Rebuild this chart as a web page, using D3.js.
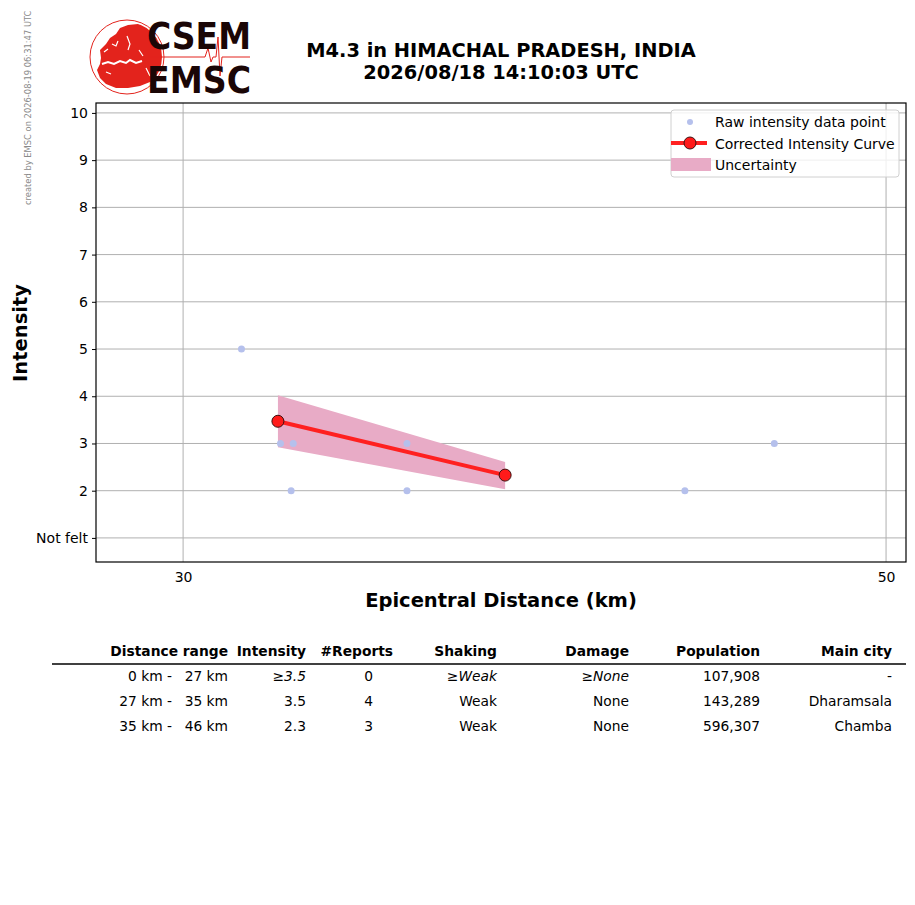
<!DOCTYPE html>
<html>
<head>
<meta charset="utf-8">
<script src="https://cdn.jsdelivr.net/npm/d3@7"></script>
<style>
  body { margin: 0; background: #fff; }
  svg { font-family: "DejaVu Sans", sans-serif; }
</style>
</head>
<body>
<svg id="chart" width="915" height="905"></svg>
<script>
// Raw felt reports (distance km, intensity)
var rawDist = [31.3, 32.2, 32.45, 32.5, 35.3, 35.3, 43.2, 46.1];
var rawInt  = [5, 3, 2, 3, 3, 2, 2, 3];

// Corrected intensity curve + uncertainty band
var curveDist = [32.14, 37.91];
var curveInt  = [3.47, 2.33];
var uncLow    = [2.92, 2.03];
var uncHigh   = [4.02, 2.61];

// Axis ticks
var xTickVals   = [30, 50];
var yTickVals   = [1, 2, 3, 4, 5, 6, 7, 8, 9, 10];
var yTickLabels = ['Not felt', '2', '3', '4', '5', '6', '7', '8', '9', '10'];

// Table below the plot
var tableHeader = ['Distance range', 'Intensity', '#Reports', 'Shaking', 'Damage', 'Population', 'Main city'];
var rangeFrom   = ['0 km -', '27 km -', '35 km -'];
var rangeTo     = ['27 km', '35 km', '46 km'];
var tIntensity  = ['≥3.5', '3.5', '2.3'];
var tReports    = ['0', '4', '3'];
var tShaking    = ['≥Weak', 'Weak', 'Weak'];
var tDamage     = ['≥None', 'None', 'None'];
var tPopulation = ['107,908', '143,289', '596,307'];
var tCity       = ['-', 'Dharamsala', 'Chamba'];
var estimated   = [true, false, false]; // first row shown in italics

var svg = d3.select('#chart');

var plot = {left: 96, right: 906, top: 103, bottom: 562};

var x = d3.scaleLog().domain([28.16, 50.73]).range([plot.left, plot.right]);
var y = d3.scaleLinear().domain([0.49, 10.21]).range([plot.bottom, plot.top]);

// side stamp
svg.append('text')
  .attr('transform', 'translate(31,205) rotate(-90)')
  .attr('fill', '#8a8a8a')
  .style('font-size', '8.35px')
  .text('created by EMSC on 2026-08-19 06:31:47 UTC');

// logo (rough sketch of the EMSC globe)
var logo = svg.append('g');
svg.append('defs').append('clipPath').attr('id', 'globe')
  .append('circle').attr('cx', 127).attr('cy', 57).attr('r', 35);
logo.append('circle')
  .attr('cx', 127).attr('cy', 57).attr('r', 37)
  .attr('fill', 'none').attr('stroke', '#e3231c').attr('stroke-width', 1);
var land = logo.append('g').attr('clip-path', 'url(#globe)');
land.append('path')
  .attr('fill', '#e3231c')
  .attr('d', 'M101,58 L100,50 L106,44 L110,38 L116,34 L120,28 L128,25 L138,24 L150,26 L166,30 L166,80 L150,82 L140,86 L128,88 L116,88 L106,84 L100,78 L97,70 L100,64 Z');
land.append('path')
  .attr('fill', 'none').attr('stroke', '#fff').attr('stroke-width', 2)
  .attr('d', 'M102,64 L108,62 L114,64 L120,61 L126,63 L130,60 L136,63 L142,61');
land.append('path')
  .attr('fill', 'none').attr('stroke', '#fff').attr('stroke-width', 1.2)
  .attr('d', 'M104,52 L108,49 M112,44 L116,46 L118,41 M127,36 L130,44 L128,50 M139,50 L143,56 M146,68 L150,76 M106,72 L111,74');
logo.append('path')
  .attr('fill', 'none').attr('stroke', '#e3231c').attr('stroke-width', 1)
  .attr('d', 'M150,57 L205,57 L208,48 L211,62 L213,57 L216,57 L218,37 L220,76 L222,57 L250,57');
logo.append('text')
  .attr('x', 147).attr('y', 49)
  .attr('textLength', 104).attr('lengthAdjust', 'spacingAndGlyphs')
  .attr('fill', '#1a0606').style('font-size', '37px').style('font-weight', 'bold')
  .text('CSEM');
logo.append('text')
  .attr('x', 147).attr('y', 93)
  .attr('textLength', 104).attr('lengthAdjust', 'spacingAndGlyphs')
  .attr('fill', '#1a0606').style('font-size', '37px').style('font-weight', 'bold')
  .text('EMSC');

// title
svg.append('text')
  .attr('x', 501).attr('y', 57).attr('text-anchor', 'middle')
  .style('font-size', '19.4px').style('font-weight', 'bold')
  .text('M4.3 in HIMACHAL PRADESH, INDIA');
svg.append('text')
  .attr('x', 501).attr('y', 79).attr('text-anchor', 'middle')
  .style('font-size', '19.4px').style('font-weight', 'bold')
  .text('2026/08/18 14:10:03 UTC');

// grid
svg.append('g').selectAll('line.hg')
  .data(yTickVals).enter().append('line')
  .attr('x1', plot.left).attr('x2', plot.right)
  .attr('y1', function(d) { return y(d); }).attr('y2', function(d) { return y(d); })
  .attr('stroke', '#b0b0b0').attr('stroke-width', 1);
svg.append('g').selectAll('line.vg')
  .data(xTickVals).enter().append('line')
  .attr('x1', function(d) { return x(d); }).attr('x2', function(d) { return x(d); })
  .attr('y1', plot.top).attr('y2', plot.bottom)
  .attr('stroke', '#b0b0b0').attr('stroke-width', 1);

// uncertainty band
var band = d3.area()
  .x(function(d, i) { return x(curveDist[i]); })
  .y0(function(d, i) { return y(uncLow[i]); })
  .y1(function(d, i) { return y(uncHigh[i]); });
svg.append('path')
  .datum(curveDist)
  .attr('d', band)
  .attr('fill', '#e8abc6');

// raw points
svg.append('g').selectAll('circle')
  .data(rawDist).enter().append('circle')
  .attr('cx', function(d) { return x(d); })
  .attr('cy', function(d, i) { return y(rawInt[i]); })
  .attr('r', 3.5)
  .attr('fill', '#b5c0ec');

// corrected curve
var line = d3.line()
  .x(function(d, i) { return x(curveDist[i]); })
  .y(function(d, i) { return y(curveInt[i]); });
svg.append('path')
  .datum(curveDist)
  .attr('d', line)
  .attr('fill', 'none').attr('stroke', '#ff2020').attr('stroke-width', 4);
svg.append('g').selectAll('circle')
  .data(curveDist).enter().append('circle')
  .attr('cx', function(d) { return x(d); })
  .attr('cy', function(d, i) { return y(curveInt[i]); })
  .attr('r', 6)
  .attr('fill', '#ff1a1a').attr('stroke', '#3a1010').attr('stroke-width', 1);

// axes
var yAxis = d3.axisLeft(y)
  .tickValues(yTickVals)
  .tickFormat(function(d, i) { return yTickLabels[i]; })
  .tickSize(4).tickPadding(4);
var gy = svg.append('g').attr('transform', 'translate(' + plot.left + ',0)').call(yAxis);
gy.selectAll('text').style('font-size', '14px').attr('fill', '#000').style('font-family', '"DejaVu Sans"');
gy.select('.domain').remove();

var xAxis = d3.axisBottom(x)
  .tickValues(xTickVals)
  .tickFormat(d3.format('d'))
  .tickSize(0).tickPadding(10);
var gx = svg.append('g').attr('transform', 'translate(0,' + plot.bottom + ')').call(xAxis);
gx.selectAll('text').style('font-size', '14px').attr('fill', '#000').style('font-family', '"DejaVu Sans"');
gx.select('.domain').remove();

svg.append('rect')
  .attr('x', plot.left).attr('y', plot.top)
  .attr('width', plot.right - plot.left).attr('height', plot.bottom - plot.top)
  .attr('fill', 'none').attr('stroke', '#000').attr('stroke-width', 1.2);

// axis labels
svg.append('text')
  .attr('x', 501).attr('y', 607).attr('text-anchor', 'middle')
  .style('font-size', '19.5px').style('font-weight', 'bold')
  .text('Epicentral Distance (km)');
svg.append('text')
  .attr('transform', 'translate(27,333) rotate(-90)').attr('text-anchor', 'middle')
  .style('font-size', '19.5px').style('font-weight', 'bold')
  .text('Intensity');

// legend
var lg = svg.append('g');
lg.append('rect')
  .attr('x', 671).attr('y', 110).attr('width', 228).attr('height', 67).attr('rx', 3)
  .attr('fill', '#fff').attr('fill-opacity', 0.8).attr('stroke', '#d0d0d0');
lg.append('circle').attr('cx', 690).attr('cy', 122).attr('r', 3).attr('fill', '#b5c0ec');
lg.append('line').attr('x1', 671).attr('x2', 707).attr('y1', 143).attr('y2', 143)
  .attr('stroke', '#ff2020').attr('stroke-width', 4);
lg.append('circle').attr('cx', 690).attr('cy', 143).attr('r', 6)
  .attr('fill', '#ff1a1a').attr('stroke', '#3a1010').attr('stroke-width', 1);
lg.append('rect').attr('x', 671).attr('y', 158).attr('width', 40).attr('height', 13).attr('fill', '#e8abc6');
['Raw intensity data point', 'Corrected Intensity Curve', 'Uncertainty'].forEach(function(t, i) {
  lg.append('text').attr('x', 715).attr('y', 127 + i * 21.5)
    .style('font-size', '14px').text(t);
});

// table
var colRight = [228, 306, 393, 497, 629, 760, 892];
var tbl = svg.append('g').style('font-size', '13.8px');
tbl.selectAll('text.hdr')
  .data(tableHeader).enter().append('text')
  .attr('x', function(d, i) { return colRight[i]; }).attr('y', 656)
  .attr('text-anchor', 'end').style('font-weight', 'bold')
  .text(function(d) { return d; });
tbl.append('line')
  .attr('x1', 52).attr('x2', 906).attr('y1', 664).attr('y2', 664)
  .attr('stroke', '#000').attr('stroke-width', 1.5);

var valRight = [228, 306, 373, 497, 629, 760, 892];
rangeFrom.forEach(function(r, i) {
  var yy = 681 + i * 25;
  var cells = [rangeTo[i], tIntensity[i], tReports[i], tShaking[i], tDamage[i], tPopulation[i], tCity[i]];
  tbl.append('text').attr('x', 172).attr('y', yy).attr('text-anchor', 'end').text(r);
  cells.forEach(function(c, j) {
    var t = tbl.append('text').attr('x', valRight[j]).attr('y', yy).attr('text-anchor', 'end').text(c);
    if (estimated[i] && (j === 1 || j === 3 || j === 4)) t.style('font-style', 'italic');
  });
});
</script>
</body>
</html>
